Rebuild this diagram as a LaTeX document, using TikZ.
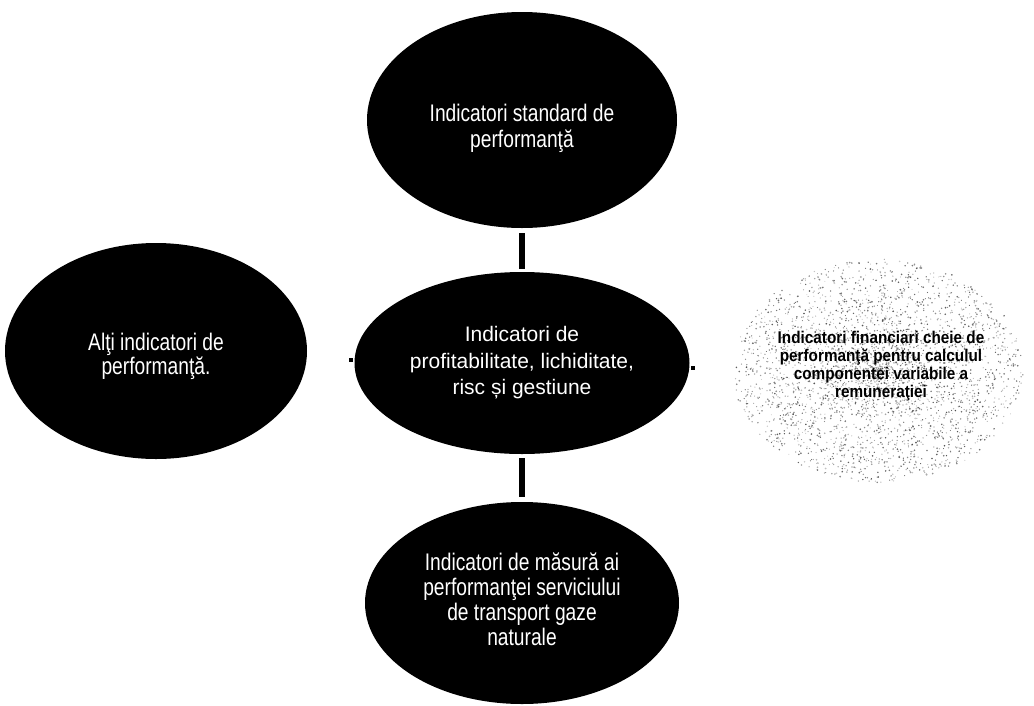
\documentclass[tikz,border=0pt]{standalone}
\usepackage{fontspec}
\setmainfont{Liberation Sans}
\newfontfamily\narrowf[FakeStretch=0.8]{Liberation Sans}
\newfontfamily\condf[FakeStretch=0.9]{Liberation Sans}
\usetikzlibrary{shapes.geometric}
\begin{document}
\begin{tikzpicture}[x=1pt,y=-1pt,
  blackell/.style={ellipse,fill=black,draw=none,inner sep=0pt},
  thintext/.style={text=white,align=center,inner sep=0pt,font=\narrowf\fontsize{24}{25}\selectfont},
  link/.style={line width=6pt},
  dotbox/.style={rectangle,fill=black,minimum size=4.5pt,inner sep=0pt}]
\useasboundingbox (0,0) rectangle (1034,705);
% black ellipses
\node[blackell,minimum width=310pt,minimum height=216pt] (top) at (522,120) {};
\node[thintext,font=\narrowf\fontsize{24}{26}\selectfont] (topT) at (522,128) {Indicatori standard de\\performanţă};
\node[blackell,minimum width=302pt,minimum height=216pt] (left) at (156,351) {};
\node[thintext,font=\narrowf\fontsize{24}{24}\selectfont] (leftT) at (156,356) {Alţi indicatori de\\performanţă.};
\node[blackell,minimum width=314pt,minimum height=202pt] (bot) at (522,603) {};
\node[thintext,font=\narrowf\fontsize{24}{25}\selectfont] (botT) at (522,599) {Indicatori de măsură ai\\performanţei serviciului\\de transport gaze\\naturale};
\node[blackell,minimum width=335pt,minimum height=182pt,text=white,align=center,
      font=\fontsize{21}{26.5}\selectfont] (c) at (522,363)
      {Indicatori de\\profitabilitate, lichiditate,\\risc și gestiune};
% speckled ellipse
\pgfmathsetseed{12}
\foreach \i in {1,...,3200}{
  \pgfmathsetmacro{\a}{360*rnd}
  \pgfmathsetmacro{\r}{pow(rnd,0.75)}
  \pgfmathsetmacro{\g}{int(20+50*rnd)}
  \pgfmathsetmacro{\s}{0.5+0.45*rnd}
  \fill[black!\g] ({878+145*\r*cos(\a)},{371+112*\r*sin(\a)}) circle (\s);
}
\node[ellipse,draw=none,inner sep=0pt,minimum width=290pt,minimum height=224pt] (right) at (878,371) {};
\node[align=center,inner sep=0pt,font=\condf\bfseries\fontsize{17}{18}\selectfont] (rightT) at (881,366)
  {Indicatori financiari cheie de\\performanţă pentru calculul\\componentei variabile a\\remuneraţiei};
% connectors
\draw[link,shorten <=5pt,shorten >=3pt] (top.south) -- (c.north);
\draw[link,shorten <=4pt,shorten >=5pt] (c.south) -- (bot.north);
\node[dotbox] (dl) at (351,360) {};
\node[dotbox] (dr) at (693,368) {};
\end{tikzpicture}
\end{document}
